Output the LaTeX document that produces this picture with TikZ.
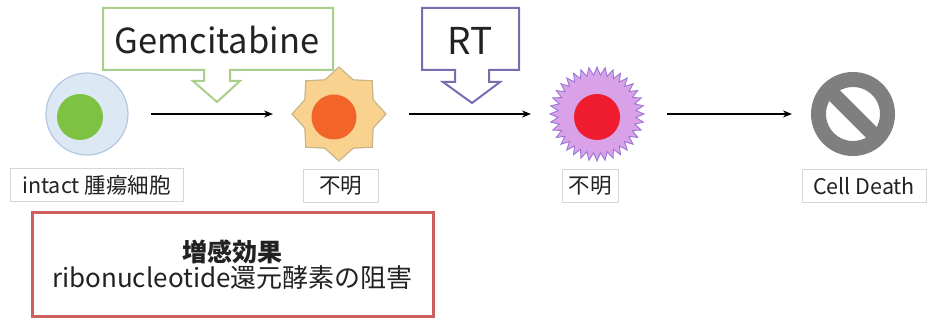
\documentclass[tikz,border=0pt]{standalone}
\usepackage{fontspec}
\setmainfont{Noto Sans CJK JP}
\usetikzlibrary{arrows.meta,calc}
\definecolor{cellblue}{HTML}{DDE8F5}
\definecolor{cellblueedge}{HTML}{B4C7E0}
\definecolor{nucgreen}{HTML}{7DC242}
\definecolor{starfill}{HTML}{F8D28E}
\definecolor{staredge}{HTML}{C8B68A}
\definecolor{nucorange}{HTML}{F26427}
\definecolor{spikefill}{HTML}{D9A2E8}
\definecolor{spikeedge}{HTML}{9C74D8}
\definecolor{nucred}{HTML}{EE1C2E}
\definecolor{deathgray}{HTML}{7F7F7F}
\definecolor{gemgreen}{HTML}{A9CF8A}
\definecolor{rtpurple}{HTML}{7B6BB0}
\definecolor{boxred}{HTML}{CC5F60}
\definecolor{labeledge}{HTML}{D6D6D6}
\definecolor{textdark}{HTML}{222222}
\tikzset{
  anchorcell/.style={circle, inner sep=0pt, outer sep=0pt},
  flow/.style={draw=black, line width=1.4pt, -{Stealth[length=9pt,width=7pt]},
               shorten <=23pt, shorten >=19pt},
  labelbox/.style={draw=labeledge, line width=0.8pt, fill=white, minimum height=33pt,
                   inner sep=0pt, text=textdark, font=\fontsize{21.5}{23}\selectfont},
  callout/.style={fill=white, line width=2pt, line join=miter},
}
\begin{document}
\begin{tikzpicture}[x=1pt, y=-1pt]
\useasboundingbox (0,0) rectangle (927,320);

% intact tumour cell
\node[anchorcell, minimum size=82pt, draw=cellblueedge, fill=cellblue, line width=1.2pt] (cell1) at (87,114) {};
\fill[nucgreen] (80,117) circle[radius=23];

% gemcitabine-treated cell (eight-point star)
\node[anchorcell, minimum size=94pt] (cell2) at (339,114) {};
\filldraw[fill=starfill, draw=staredge, line width=1.2pt, shift={(339,114)}]
  (0:47) \foreach \i in {1,...,15} { -- (\i*22.5:{ifthenelse(mod(\i,2)==0,47,37)}) } -- cycle;
\fill[nucorange] (334,117) circle[radius=22.5];

% irradiated cell (spiky outline)
\node[anchorcell, minimum size=94pt] (cell3) at (597,114) {};
\filldraw[fill=spikefill, draw=spikeedge, line width=0.9pt, shift={(597,114)}]
  (0:47) \foreach \i in {1,...,71} { -- (\i*5:{ifthenelse(mod(\i,2)==0,47,39)}) } -- cycle;
\fill[nucred] (597,117) circle[radius=23];

% cell death symbol
\node[anchorcell, minimum size=84pt] (death) at (853,114) {};
\draw[deathgray, line width=15pt] (death.center) circle[radius=34.5];
\draw[deathgray, line width=15pt] ($(death.center)+(225:34)$) -- ($(death.center)+(45:34)$);

% process arrows
\draw[flow] (cell1) -- (cell2);
\draw[flow] (cell2) -- (cell3);
\draw[flow] (cell3) -- (death);

% treatment callouts
\draw[callout, draw=gemgreen] (103,8) -- (333,8) -- (333,70) -- (230,70)
  -- (230,81) -- (240,81) -- (217,102) -- (193,81) -- (204,81) -- (204,70) -- (103,70) -- cycle;
\node[font=\fontsize{34.5}{37}\selectfont, text=textdark] (gem) at (217,40) {Gemcitabine};

\draw[callout, draw=rtpurple] (422,8) -- (519,8) -- (519,70) -- (489,70) -- (489,82)
  -- (500,82) -- (472,103) -- (443,82) -- (455,82) -- (455,70) -- (422,70) -- cycle;
\node[font=\fontsize{37}{40}\selectfont, text=textdark] (rt) at (470,41) {RT};

% cell labels
\node[labelbox, minimum width=173pt] (lab1) at (96.5,185) {intact 腫瘍細胞};
\node[labelbox, minimum width=75pt] (lab2) at (340.5,186) {不明};
\node[labelbox, minimum width=56pt] (lab3) at (590,186) {不明};
\node[labelbox, minimum width=124pt] (lab4) at (864,186) {Cell Death};

% sensitising effect box
\node[draw=boxred, line width=3pt, fill=white, minimum width=401pt, minimum height=104pt,
      align=center, inner sep=0pt, text=textdark] (effect) at (232.5,265)
  {\fontsize{25}{30}\selectfont\bfseries 増感効果\\[1pt]
   \fontsize{26}{30}\selectfont ribonucleotide還元酵素の阻害};
\end{tikzpicture}
\end{document}
